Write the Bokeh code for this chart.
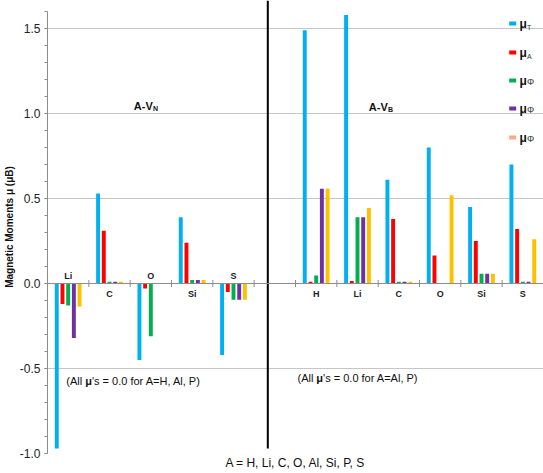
import math
from bokeh.plotting import figure
from bokeh.models import (Range1d, SingleIntervalTicker, FixedTicker,
                          NumeralTickFormatter, Label, ColumnDataSource, Span, Title)
from bokeh.core.properties import value
from bokeh.embed import file_html
from bokeh.resources import INLINE

# ---------------- data ----------------
vn_elements = ["Li", "C", "O", "Si", "S"]          # A-V_N group
vb_elements = ["H", "Li", "C", "O", "Si", "S"]     # A-V_B group
vn_slots = [0, 1, 2, 3, 4]
vb_slots = [6, 7, 8, 9, 10, 11]
n_slots = 12

mu_T_vn = [-0.97, 0.53, -0.45, 0.39, -0.42]
mu_A_vn = [-0.12, 0.31, -0.03, 0.24, -0.05]
mu_1_vn = [-0.13, 0.01, -0.31, 0.02, -0.095]
mu_2_vn = [-0.32, 0.01, 0.0, 0.02, -0.095]
mu_3_vn = [-0.135, 0.01, 0.0, 0.02, -0.095]

mu_T_vb = [1.49, 1.58, 0.61, 0.80, 0.45, 0.70]
mu_A_vb = [0.01, 0.015, 0.38, 0.165, 0.25, 0.32]
mu_1_vb = [0.047, 0.39, 0.01, 0.0, 0.057, 0.01]
mu_2_vb = [0.557, 0.39, 0.01, 0.0, 0.057, 0.01]
mu_3_vb = [0.557, 0.445, 0.01, 0.52, 0.057, 0.26]

series_vn = [mu_T_vn, mu_A_vn, mu_1_vn, mu_2_vn, mu_3_vn]
series_vb = [mu_T_vb, mu_A_vb, mu_1_vb, mu_2_vb, mu_3_vb]
series_subs = ["T", "A", "Φ", "Φ", "Φ"]
series_colors = ["#00B0F0", "#FF0000", "#00B050", "#7030A0", "#FFC000"]
swatch_colors = ["#00B0F0", "#FF0000", "#00B050", "#7030A0", "#F8A98A"]

grid_levels = [-1.0, -0.5, 0.5, 1.0, 1.5]
x_title = "A = H, Li, C, O, Al, Si, P, S"
y_title = "Magnetic Moments μ (μB)"

FONT = "Liberation Sans"
GREY = "#8c8c8c"

# ---------------- figure ----------------
p = figure(width=543, height=473,
           x_range=Range1d(0, n_slots), y_range=Range1d(-1.0, 1.665),
           x_axis_location=None, output_backend="svg", toolbar_location=None,
           min_border_left=43, min_border_right=0, min_border_top=0,
           min_border_bottom=20)
p.outline_line_color = None
p.background_fill_color = "white"
p.border_fill_color = "white"

# y axis
ya = p.yaxis[0]
ya.ticker = SingleIntervalTicker(interval=0.5, num_minor_ticks=5)
ya.bounds = (-1.0, 1.6)
ya.formatter = NumeralTickFormatter(format="0.0")
ya.axis_line_color = GREY
ya.major_tick_line_color = GREY
ya.minor_tick_line_color = GREY
ya.major_tick_in = 0
ya.major_tick_out = 3
ya.minor_tick_in = 0
ya.minor_tick_out = 3
ya.major_label_text_font = FONT
ya.major_label_text_font_size = "12px"
ya.major_label_text_color = "#222222"
ya.major_label_standoff = 4
ya.axis_label = y_title
ya.axis_label_text_font = FONT
ya.axis_label_text_font_size = "10px"
ya.axis_label_text_font_style = "bold"
ya.axis_label_text_color = "#111111"
ya.axis_label_standoff = 2

p.ygrid.ticker = FixedTicker(ticks=grid_levels)
p.ygrid.grid_line_color = GREY
p.ygrid.grid_line_dash = "1 1"
p.xgrid.visible = False

# zero line with slot-boundary ticks
p.add_layout(Span(location=0, dimension="width", line_color=GREY, line_width=1))
p.scatter(x=list(range(1, n_slots)), y=[0] * (n_slots - 1), marker="dash",
          angle=math.pi / 2, size=7, line_color=GREY, line_width=1)

# bars
bar_w = 0.095
bar_step = 0.138
for k in range(5):
    xs = [s + 0.5 + (k - 2) * bar_step for s in vn_slots] + \
         [s + 0.5 + (k - 2) * bar_step for s in vb_slots]
    tops = series_vn[k] + series_vb[k]
    src = ColumnDataSource(dict(x=xs, top=tops))
    p.vbar(x="x", top="top", bottom=0, width=bar_w, source=src,
           fill_color=series_colors[k], line_color=None)

# element labels: above the axis when the total moment is negative
all_slots = vn_slots + vb_slots
all_names = vn_elements + vb_elements
all_T = mu_T_vn + mu_T_vb
up = [(s + 0.5, n) for s, n, t in zip(all_slots, all_names, all_T) if t < 0]
dn = [(s + 0.5, n) for s, n, t in zip(all_slots, all_names, all_T) if t >= 0]
p.text(x=[u[0] for u in up], y=[0] * len(up), text=[u[1] for u in up],
       text_font=value(FONT), text_font_size="9px", text_font_style="bold",
       text_color="#222222", text_align="center", text_baseline="middle",
       y_offset=-8)
p.text(x=[d[0] for d in dn], y=[0] * len(dn), text=[d[1] for d in dn],
       text_font=value(FONT), text_font_size="9px", text_font_style="bold",
       text_color="#222222", text_align="center", text_baseline="middle",
       y_offset=10)

# divider between the two groups
divider_x = 5.33
divider_y = (-0.97, 1.665)
p.segment(x0=[divider_x], y0=[divider_y[0]], x1=[divider_x], y1=[divider_y[1]],
          line_color="black", line_width=2)

# legend (manual, to allow subscripts)
legend_x = 11.255
legend_y = [1.529, 1.359, 1.194, 1.029, 0.859]
p.rect(x=[legend_x] * 5, y=legend_y, width=7, height=4,
       width_units="screen", height_units="screen",
       fill_color=swatch_colors, line_color=None)
p.text(x=[11.42] * 5, y=legend_y, text=["μ"] * 5, text_font=value(FONT),
       text_font_size="12px", text_font_style="bold", text_color="#111111",
       text_align="left", text_baseline="middle")
p.text(x=[11.60] * 2, y=[v - 0.022 for v in legend_y[:2]], text=series_subs[:2],
       text_font=value(FONT), text_font_size="7px", text_color="#333333",
       text_align="left", text_baseline="middle")
p.text(x=[11.60] * 3, y=[v - 0.01 for v in legend_y[2:]], text=series_subs[2:],
       text_font=value(FONT), text_font_size="9px", text_color="#333333",
       text_align="left", text_baseline="middle")

def lab(x, y, text, size, bold=False, **kw):
    p.add_layout(Label(x=x, y=y, text=text, text_font=FONT,
                       text_font_size=size,
                       text_font_style="bold" if bold else "normal",
                       text_color="#111111", text_baseline="middle", **kw))

# group titles
lab(2.088, 1.047, "A-V", "11px", True)
lab(2.55, 1.03, "N", "7px", True)
lab(7.775, 1.04, "A-V", "11px", True)
lab(8.237, 1.023, "B", "7px", True)

# notes
lab(0.456, -0.571, "(All ", "11px")
lab(0.913, -0.571, "μ", "11px", True)
lab(1.075, -0.571, "'s = 0.0 for A=H, Al, P)", "11px")
lab(6.048, -0.553, "(All ", "11px")
lab(6.505, -0.553, "μ", "11px", True)
lab(6.667, -0.553, "'s = 0.0 for A=Al, P)", "11px")

# x title
p.add_layout(Title(text=x_title, align="center", text_font=FONT,
                   text_font_size="12px", text_font_style="normal",
                   text_color="#111111", standoff=0, offset=-8), "below")

open("out.html", "w").write(file_html(p, INLINE))
